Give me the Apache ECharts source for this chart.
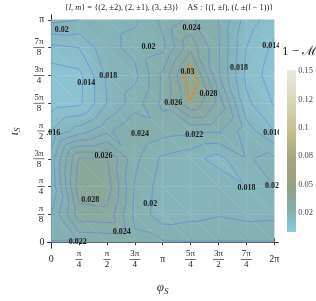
<!DOCTYPE html>
<html><head><meta charset="utf-8">
<script src="https://cdn.jsdelivr.net/npm/echarts@6/dist/echarts.min.js"></script>
<style>html,body{margin:0;padding:0;background:#fff}#c{width:316px;height:301px}</style>
</head><body><div id="c"></div>
<script>
const PI = Math.PI;
// grid nodes
const phiGrid = [0, PI/4, PI/2, 3*PI/4, PI, 5*PI/4, 3*PI/2, 7*PI/4, 2*PI];
const iotaGrid = [0, PI/8, PI/4, 3*PI/8, PI/2, 5*PI/8, 3*PI/4, 7*PI/8, PI];
// values 1 - M, rows = iota (0 .. pi), columns = phi (0 .. 2pi)
const row0 = [0.0221, 0.0222, 0.0224, 0.0225, 0.0222, 0.0221, 0.0221, 0.0221, 0.0221];
const row1 = [0.0200, 0.0272, 0.0275, 0.0215, 0.0188, 0.0193, 0.0198, 0.0193, 0.0194];
const row2 = [0.0183, 0.0292, 0.0291, 0.0218, 0.0190, 0.0190, 0.0195, 0.0181, 0.0200];
const row3 = [0.0190, 0.0282, 0.0282, 0.0225, 0.0196, 0.0188, 0.0172, 0.0199, 0.0203];
const row4 = [0.0160, 0.0190, 0.0215, 0.0240, 0.0228, 0.0224, 0.0222, 0.0190, 0.0160];
const row5 = [0.0130, 0.0135, 0.0180, 0.0210, 0.0245, 0.0298, 0.0255, 0.0165, 0.0138];
const row6 = [0.0128, 0.0134, 0.0183, 0.0195, 0.0244, 0.0315, 0.0222, 0.0155, 0.0128];
const row7 = [0.0155, 0.0160, 0.0195, 0.0205, 0.0215, 0.0274, 0.0222, 0.0160, 0.0135];
const row8 = [0.0205, 0.0200, 0.0195, 0.0198, 0.0225, 0.0245, 0.0220, 0.0170, 0.0150];
const zRows = [row0, row1, row2, row3, row4, row5, row6, row7, row8];

const contourLevels = [0.012, 0.014, 0.016, 0.018, 0.02, 0.022, 0.024, 0.026, 0.028, 0.03];
const phiTickLabels = ['0', 'π/4', 'π/2', '3π/4', 'π', '5π/4', '3π/2', '7π/4', '2π'];
const iotaTickLabels = ['0', 'π/8', 'π/4', '3π/8', 'π/2', '5π/8', '3π/4', '7π/8', 'π'];
const colorbarTicks = ['0.02', '0.05', '0.08', '0.1', '0.12', '0.15'];
// contour labels: [phi, iota, text]
const contourLabels = [
  [0.295, 3.005, '0.02'], [2.74, 2.76, '0.02'], [0.99, 2.25, '0.014'], [1.61, 2.35, '0.018'],
  [3.95, 3.03, '0.024'], [6.20, 2.77, '0.014'], [5.29, 2.46, '0.018'], [3.84, 2.40, '0.03'],
  [4.43, 2.10, '0.028'], [3.44, 1.97, '0.026'], [0.00, 1.54, '0.016'], [6.23, 1.54, '0.016'],
  [4.03, 1.52, '0.022'], [2.50, 1.53, '0.024'], [1.475, 1.215, '0.026'], [1.10, 0.60, '0.028'],
  [2.79, 0.546, '0.02'], [1.99, 0.15, '0.024'], [0.75, 0.00, '0.022'], [5.50, 0.765, '0.018'],
  [6.22, 0.79, '0.02']
];

// colour map (value -> rgb)
const cmap = [
  [0.000, [140, 206, 224]], [0.012, [142, 198, 214]], [0.016, [137, 188, 200]],
  [0.020, [132, 178, 182]], [0.024, [134, 173, 170]], [0.028, [137, 168, 156]],
  [0.032, [142, 166, 148]]
];
function colorOf(v) {
  if (v <= cmap[0][0]) return 'rgb(' + cmap[0][1].join(',') + ')';
  for (let k = 1; k < cmap.length; k++) {
    if (v <= cmap[k][0]) {
      const t = (v - cmap[k-1][0]) / (cmap[k][0] - cmap[k-1][0]);
      const a = cmap[k-1][1], b = cmap[k][1];
      return 'rgb(' + [0,1,2].map(c => Math.round(a[c] + t*(b[c]-a[c]))).join(',') + ')';
    }
  }
  return 'rgb(' + cmap[cmap.length-1][1].join(',') + ')';
}

// triangulation of grid cells (diagonal from top-left to bottom-right on screen)
const tris = [];
for (let j = 0; j < iotaGrid.length - 1; j++) {
  for (let i = 0; i < phiGrid.length - 1; i++) {
    const A = [i, j], B = [i+1, j], C = [i+1, j+1], D = [i, j+1];
    tris.push([A, B, D]);
    tris.push([B, C, D]);
  }
}
const triData = tris.map((t, k) => [
  (phiGrid[t[0][0]] + phiGrid[t[1][0]] + phiGrid[t[2][0]]) / 3,
  (iotaGrid[t[0][1]] + iotaGrid[t[1][1]] + iotaGrid[t[2][1]]) / 3, k]);

function verts(api, k) {
  return tris[k].map(([i, j]) => {
    const p = api.coord([phiGrid[i], iotaGrid[j]]);
    return { x: p[0], y: p[1], v: zRows[j][i] };
  });
}

function renderFill(params, api) {
  const k = api.value(2);
  const P = verts(api, k);
  const pts = P.map(p => [p.x, p.y]);
  const e1x = P[1].x - P[0].x, e1y = P[1].y - P[0].y, e2x = P[2].x - P[0].x, e2y = P[2].y - P[0].y;
  const d1 = P[1].v - P[0].v, d2 = P[2].v - P[0].v;
  const det = e1x * e2y - e1y * e2x;
  const gx = (d1 * e2y - d2 * e1y) / det, gy = (e1x * d2 - e2x * d1) / det;
  const g2 = gx * gx + gy * gy;
  let fill;
  const vs = P.map(p => p.v);
  const vmin = Math.min(...vs), vmax = Math.max(...vs);
  if (g2 < 1e-14 || vmax - vmin < 1e-7) {
    fill = colorOf(P[0].v);
  } else {
    const sx = P[0].x - (P[0].v - vmin) * gx / g2, sy = P[0].y - (P[0].v - vmin) * gy / g2;
    const ex = sx + (vmax - vmin) * gx / g2, ey = sy + (vmax - vmin) * gy / g2;
    const stops = [];
    for (let s = 0; s <= 4; s++) stops.push({ offset: s / 4, color: colorOf(vmin + (vmax - vmin) * s / 4) });
    fill = new echarts.graphic.LinearGradient(sx, sy, ex, ey, stops, true);
  }
  return { type: 'polygon', shape: { points: pts }, style: { fill: fill, stroke: fill, lineWidth: 0.4 } };
}

function renderLines(params, api) {
  const k = api.value(2);
  const P = verts(api, k);
  const children = [];
  contourLevels.forEach(L => {
    const q = P.map(p => ({ x: p.x, y: p.y, v: (p.v === L ? p.v + 1e-9 : p.v) }));
    const hits = [];
    for (let a = 0; a < 3; a++) {
      const b = (a + 1) % 3;
      if ((q[a].v - L) * (q[b].v - L) < 0) {
        const t = (L - q[a].v) / (q[b].v - q[a].v);
        hits.push([q[a].x + t * (q[b].x - q[a].x), q[a].y + t * (q[b].y - q[a].y)]);
      }
    }
    if (hits.length === 2) {
      const orange = Math.abs(L - 0.03) < 1e-9;
      children.push({ type: 'line', shape: { x1: hits[0][0], y1: hits[0][1], x2: hits[1][0], y2: hits[1][1] },
        style: { stroke: orange ? '#f0871a' : 'rgba(92,116,232,0.72)', lineWidth: orange ? 1.1 : 0.7 } });
    }
  });
  return { type: 'group', children: children };
}

function renderLabel(params, api) {
  const p = api.coord([api.value(0), api.value(1)]);
  return { type: 'text', x: p[0], y: p[1],
    style: { text: contourLabels[params.dataIndex][2], fill: '#1a1a1a', align: 'center', verticalAlign: 'middle',
      font: 'bold 8px "Liberation Serif", serif' } };
}

const SERIF = '"Liberation Serif", "DejaVu Serif", serif';
function frac(s) {
  if (s.indexOf('/') < 0) return '{s|' + s + '}';
  const [n, d] = s.split('/');
  return '{n|' + n + '}\n{' + (n.length > 1 ? 'b2' : 'b1') + '| }\n{d|' + d + '}';
}
const richFrac = {
  n: { fontFamily: SERIF, fontSize: 9, lineHeight: 8, align: 'center', color: '#222' },
  d: { fontFamily: SERIF, fontSize: 9, lineHeight: 8, align: 'center', color: '#222' },
  b1: { width: 7, height: 0.7, fontSize: 1, lineHeight: 3, backgroundColor: '#333', align: 'center' },
  b2: { width: 11, height: 0.7, fontSize: 1, lineHeight: 3, backgroundColor: '#333', align: 'center' },
  s: { fontFamily: SERIF, fontSize: 10, lineHeight: 19, align: 'center', color: '#222' }
};
const richFracY = JSON.parse(JSON.stringify(richFrac));
richFracY.s.lineHeight = 12;

const X0 = -0.1074, X1 = 2 * PI + 0.1074, Y0 = -0.082, Y1 = PI + 0.068;
const frameLine = { show: true, lineStyle: { color: '#333', width: 1 } };
function labelIndex(arr, v) { let best = 0; arr.forEach((a, k) => { if (Math.abs(a - v) < Math.abs(arr[best] - v)) best = k; }); return best; }
const nameRich = { v: { fontFamily: SERIF, fontStyle: 'italic', fontSize: 13, color: '#333', lineHeight: 16 },
  sub: { fontFamily: SERIF, fontStyle: 'italic', fontSize: 9, color: '#333', verticalAlign: 'bottom', lineHeight: 16, padding: [5, 0, 0, 0] } };

const chart = echarts.init(document.getElementById('c'));
chart.setOption({
  animation: false,
  grid: [
    { left: 36, top: 15, width: 242, height: 241, show: false },
    { left: 287, top: 70, width: 9, height: 162, show: false }
  ],
  xAxis: [
    { type: 'value', gridIndex: 0, min: X0, max: X1, position: 'bottom', axisLine: frameLine,
      splitLine: { show: false },
      axisTick: { show: true, inside: true, length: 4, customValues: phiGrid, lineStyle: { color: '#333' } },
      axisLabel: { customValues: phiGrid, margin: 2, formatter: v => frac(phiTickLabels[labelIndex(phiGrid, v)]), rich: richFrac },
      name: '{v|φ}{sub|S}', nameLocation: 'middle', nameGap: 32, nameTextStyle: { rich: nameRich } },
    { type: 'value', gridIndex: 0, min: X0, max: X1, position: 'top', axisLine: frameLine,
      splitLine: { show: false }, axisLabel: { show: false },
      axisTick: { show: true, inside: true, length: 3, customValues: phiGrid, lineStyle: { color: '#333' } } },
    { type: 'value', gridIndex: 1, min: 0, max: 1, show: false }
  ],
  yAxis: [
    { type: 'value', gridIndex: 0, min: Y0, max: Y1, position: 'left', axisLine: frameLine,
      splitLine: { show: false },
      axisTick: { show: true, inside: true, length: 4, customValues: iotaGrid, lineStyle: { color: '#333' } },
      axisLabel: { customValues: iotaGrid, margin: 3, formatter: v => frac(iotaTickLabels[labelIndex(iotaGrid, v)]), rich: richFracY },
      name: '{v|ι}{sub|S}', nameLocation: 'middle', nameGap: 24, nameRotate: 90, nameTextStyle: { rich: nameRich } },
    { type: 'value', gridIndex: 0, min: Y0, max: Y1, position: 'right', axisLine: frameLine,
      splitLine: { show: false }, axisLabel: { show: false },
      axisTick: { show: true, inside: true, length: 3, customValues: iotaGrid, lineStyle: { color: '#333' } } },
    { type: 'value', gridIndex: 1, min: -0.67, max: 5.035, position: 'right',
      axisLine: { show: false }, axisTick: { show: false }, splitLine: { show: false },
      axisLabel: { customValues: [0, 1, 2, 3, 4, 5], margin: 4, fontFamily: SERIF, fontSize: 8.5, color: '#444',
        formatter: v => colorbarTicks[Math.round(v)] } }
  ],
  graphic: [
    { type: 'rect', left: 287, top: 70, shape: { width: 9, height: 162 },
      style: { fill: new echarts.graphic.LinearGradient(0, 0, 0, 1, [
        { offset: 0, color: 'rgb(234,234,230)' }, { offset: 0.18, color: 'rgb(218,216,186)' },
        { offset: 0.36, color: 'rgb(198,194,148)' }, { offset: 0.55, color: 'rgb(166,164,122)' },
        { offset: 0.72, color: 'rgb(148,160,132)' }, { offset: 0.86, color: 'rgb(132,172,170)' },
        { offset: 1, color: 'rgb(140,204,222)' }]) } },
    { type: 'text', x: 282, y: 52, style: { text: '1 − ℳ', font: '13px "Liberation Serif", serif', fill: '#222', verticalAlign: 'middle' } },
    { type: 'text', x: 169, y: 8, style: {
      text: '{{i|l}, {i|m}} = {(2, ±2), (2, ±1), (3, ±3)}    AS : {({i|l}, ±{i|l}), ({i|l}, ±({i|l} − 1))}',
      font: '8.4px "Liberation Serif", serif', fill: '#222', align: 'center', verticalAlign: 'middle',
      rich: { i: { fontStyle: 'italic', fontFamily: SERIF, fontSize: 8.4, fill: '#222' } } } }
  ],
  series: [
    { type: 'custom', xAxisIndex: 0, yAxisIndex: 0, data: triData, renderItem: renderFill, z: 1, silent: true },
    { type: 'custom', xAxisIndex: 0, yAxisIndex: 0, data: triData, renderItem: renderLines, z: 2, silent: true },
    { type: 'custom', xAxisIndex: 0, yAxisIndex: 0, data: contourLabels.map(c => [c[0], c[1]]), renderItem: renderLabel, z: 3, clip: true, silent: true }
  ]
});
</script></body></html>
